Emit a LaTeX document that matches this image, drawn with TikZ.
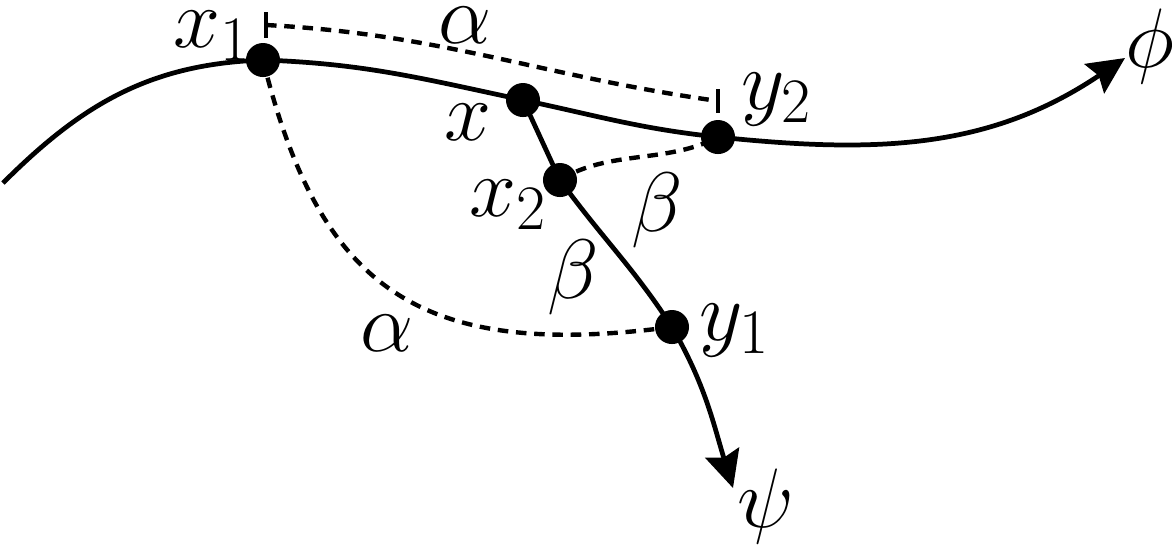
\documentclass[tikz,border=0pt]{standalone}
\usepackage{fix-cm}
\usetikzlibrary{arrows.meta}
\DeclareMathSizes{24}{24}{18}{13}
\begin{document}
\begin{tikzpicture}[x=0.01cm,y=0.01cm,
  dot/.style={circle,fill=black,inner sep=0pt,minimum size=0.34cm},
  lbl/.style={inner sep=0pt,font=\fontsize{24}{28}\selectfont},
  curve/.style={line width=1.35pt},
  dashcurve/.style={line width=1.25pt,dash pattern=on 3pt off 2.2pt},
  tick/.style={line width=1.2pt},
  tip/.style={-{Stealth[length=10.5pt,width=10pt,inset=1.5pt]}}]
\useasboundingbox (0,0) rectangle (1172,-544);
% points
\coordinate (phistart) at (3,-183);
\coordinate (phiend) at (1125,-58);
\coordinate (psiend) at (733,-488);
\coordinate (ta) at (266,-25);
\coordinate (tb) at (718,-101);
\coordinate (ta1) at (266,-12);
\coordinate (ta2) at (266,-38);
\coordinate (tb1) at (718,-89);
\coordinate (tb2) at (718,-113);
\coordinate (ac1) at (320,-290);
\coordinate (ac2) at (420,-360);
% dashed connectors
\draw[dashcurve] (ta) to[out=-3,in=172] (tb);
\draw[tick] (ta1) -- (ta2);
\draw[tick] (tb1) -- (tb2);
\path (263,-60) coordinate (x1c) (523,-100) coordinate (xc) (718,-137) coordinate (y2c)
      (560,-180) coordinate (x2c) (672,-327) coordinate (y1c);
\draw[dashcurve] (x1c) .. controls (ac1) and (ac2) .. (y1c);
\draw[dashcurve] (x2c) to[out=32,in=208,looseness=0.9] (y2c);
% solid curves
\draw[curve,tip] (phistart) to[out=45,in=182] (x1c) to[out=-2,in=168] (xc)
   to[out=-12,in=174] (y2c) to[out=-6,in=214] (phiend);
\draw[curve,tip] (xc) to[out=-65,in=115] (x2c) to[out=-54,in=123] (y1c) to[out=-60,in=107] (psiend);
% dots
\node[dot] (x1) at (x1c) {};
\node[dot] (x) at (xc) {};
\node[dot] (y2) at (y2c) {};
\node[dot] (x2) at (x2c) {};
\node[dot] (y1) at (y1c) {};
% labels
\node[lbl] (lx1) at (212,-36) {$x_1$};
\node[lbl] (la1) at (465,-25) {$\alpha$};
\node[lbl] (lx) at (468,-122) {$x$};
\node[lbl] (ly2) at (777,-100) {$y_2$};
\node[lbl] (lx2) at (508,-205) {$x_2$};
\node[lbl] (lb1) at (657,-210) {$\beta$};
\node[lbl] (lb2) at (573,-277) {$\beta$};
\node[lbl] (la2) at (387,-333) {$\alpha$};
\node[lbl] (ly1) at (735,-331) {$y_1$};
\node[lbl] (lphi) at (1150,-46) {$\phi$};
\node[lbl] (lpsi) at (766,-506) {$\psi$};
\end{tikzpicture}
\end{document}
